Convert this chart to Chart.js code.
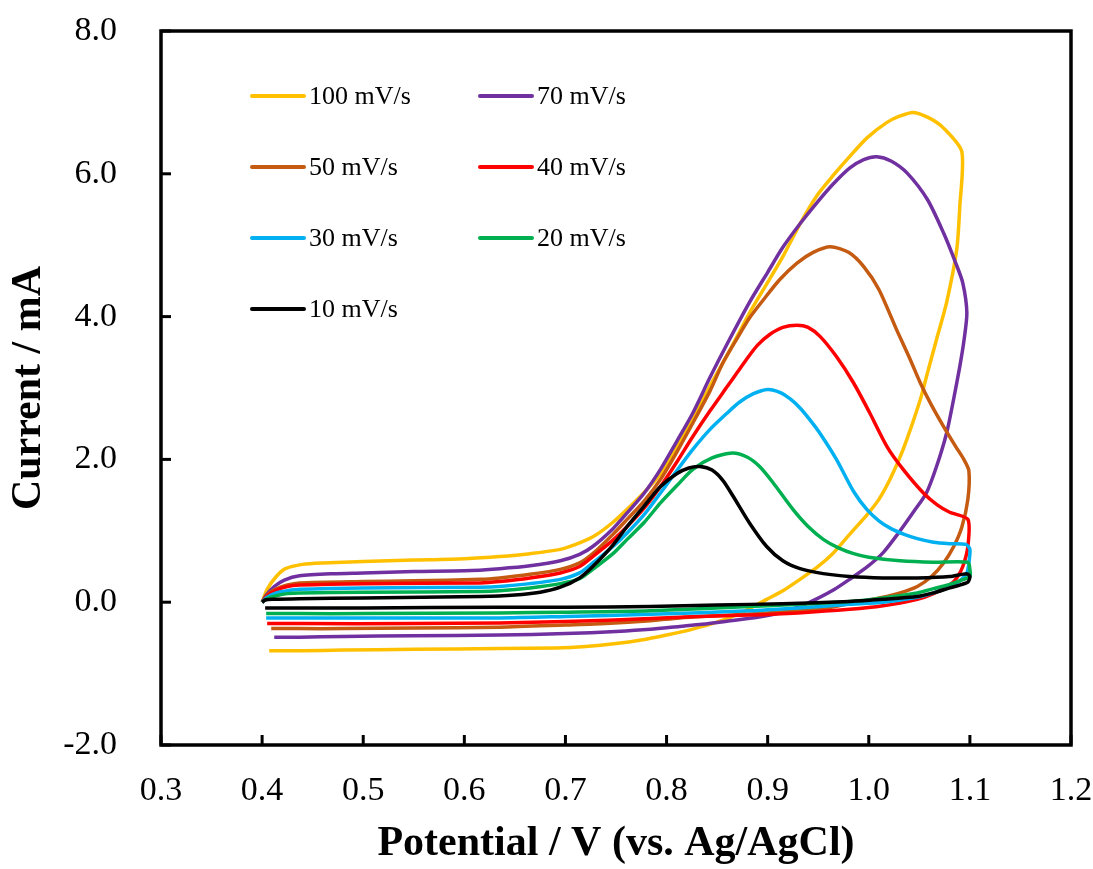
<!DOCTYPE html>
<html>
<head>
<meta charset="utf-8">
<script src="https://cdn.jsdelivr.net/npm/chart.js@4.4.1/dist/chart.umd.min.js"></script>
<style>
  html, body { margin: 0; padding: 0; background: #fff; }
  canvas { display: block; }
</style>
</head>
<body>
<canvas id="cvChart" width="1093" height="869"></canvas>
<script>
// scan rates and their colours
var rateLabels = ['100 mV/s', '70 mV/s', '50 mV/s', '40 mV/s', '30 mV/s', '20 mV/s', '10 mV/s'];
var rateColors = ['#FFC000', '#7030A0', '#C55A11', '#FF0000', '#00B0F0', '#00B050', '#000000'];

// potential (V) , current (mA) - forward sweep then reverse sweep
var cv100 = [[0.400,0.00],[0.405,0.18],[0.414,0.36],[0.423,0.47],[0.440,0.53],[0.460,0.55],[0.500,0.57],[0.550,0.59],[0.600,0.61],[0.635,0.64],[0.665,0.68],[0.695,0.74],[0.714,0.83],[0.730,0.94],[0.747,1.12],[0.761,1.30],[0.778,1.54],[0.794,1.80],[0.810,2.18],[0.826,2.58],[0.843,3.03],[0.860,3.46],[0.882,4.05],[0.900,4.48],[0.915,4.84],[0.932,5.30],[0.949,5.70],[0.965,5.98],[0.981,6.24],[0.998,6.50],[1.018,6.72],[1.031,6.81],[1.044,6.86],[1.060,6.78],[1.074,6.64],[1.092,6.31],[1.090,5.54],[1.087,4.94],[1.077,4.20],[1.067,3.68],[1.058,3.21],[1.051,2.84],[1.034,2.14],[1.022,1.75],[1.010,1.44],[0.998,1.22],[0.981,0.95],[0.965,0.69],[0.949,0.49],[0.932,0.32],[0.915,0.16],[0.899,0.04],[0.875,-0.14],[0.850,-0.28],[0.825,-0.38],[0.800,-0.46],[0.775,-0.53],[0.750,-0.58],[0.720,-0.62],[0.690,-0.64],[0.635,-0.65],[0.550,-0.66],[0.480,-0.67],[0.440,-0.68],[0.407,-0.68]];
var cv70 = [[0.400,0.00],[0.404,0.10],[0.412,0.22],[0.422,0.31],[0.437,0.37],[0.470,0.40],[0.500,0.41],[0.550,0.43],[0.600,0.44],[0.635,0.47],[0.665,0.51],[0.695,0.58],[0.714,0.67],[0.727,0.78],[0.747,1.03],[0.761,1.25],[0.778,1.53],[0.794,1.86],[0.810,2.25],[0.826,2.65],[0.843,3.15],[0.860,3.62],[0.882,4.20],[0.900,4.62],[0.915,4.97],[0.932,5.30],[0.949,5.60],[0.965,5.86],[0.981,6.08],[0.995,6.20],[1.008,6.24],[1.022,6.18],[1.038,6.01],[1.058,5.64],[1.074,5.17],[1.086,4.75],[1.093,4.47],[1.097,4.05],[1.094,3.65],[1.090,3.30],[1.084,2.85],[1.077,2.37],[1.067,1.90],[1.057,1.53],[1.045,1.28],[1.031,1.00],[1.014,0.69],[0.998,0.49],[0.981,0.32],[0.965,0.17],[0.949,0.05],[0.932,-0.06],[0.915,-0.14],[0.890,-0.21],[0.863,-0.26],[0.835,-0.31],[0.813,-0.34],[0.784,-0.38],[0.750,-0.41],[0.700,-0.44],[0.635,-0.46],[0.550,-0.47],[0.480,-0.48],[0.437,-0.49],[0.412,-0.49]];
var cv50 = [[0.400,0.00],[0.405,0.10],[0.413,0.18],[0.425,0.24],[0.437,0.27],[0.500,0.29],[0.550,0.30],[0.616,0.32],[0.635,0.34],[0.665,0.39],[0.695,0.46],[0.714,0.55],[0.727,0.68],[0.747,0.95],[0.761,1.16],[0.778,1.42],[0.794,1.72],[0.810,2.10],[0.826,2.51],[0.843,2.96],[0.856,3.36],[0.870,3.70],[0.882,3.98],[0.896,4.24],[0.912,4.52],[0.929,4.75],[0.945,4.90],[0.962,4.98],[0.980,4.90],[0.995,4.70],[1.010,4.38],[1.028,3.80],[1.040,3.43],[1.051,3.07],[1.062,2.76],[1.074,2.46],[1.086,2.18],[1.094,2.00],[1.099,1.84],[1.098,1.44],[1.092,1.05],[1.084,0.78],[1.074,0.55],[1.062,0.36],[1.048,0.22],[1.031,0.13],[1.014,0.07],[0.981,-0.02],[0.949,-0.10],[0.900,-0.15],[0.850,-0.19],[0.813,-0.22],[0.784,-0.26],[0.740,-0.30],[0.700,-0.32],[0.635,-0.35],[0.550,-0.36],[0.480,-0.37],[0.437,-0.37],[0.409,-0.37]];
var cv40 = [[0.400,0.00],[0.405,0.09],[0.414,0.17],[0.425,0.22],[0.437,0.24],[0.500,0.26],[0.616,0.27],[0.635,0.29],[0.665,0.34],[0.695,0.41],[0.714,0.50],[0.727,0.64],[0.747,0.87],[0.761,1.06],[0.778,1.32],[0.794,1.62],[0.810,1.96],[0.826,2.32],[0.843,2.68],[0.860,3.02],[0.870,3.22],[0.879,3.40],[0.890,3.60],[0.902,3.75],[0.915,3.85],[0.929,3.88],[0.940,3.85],[0.952,3.72],[0.968,3.44],[0.985,3.07],[1.001,2.65],[1.018,2.18],[1.034,1.86],[1.054,1.53],[1.068,1.36],[1.080,1.26],[1.098,1.16],[1.098,0.78],[1.093,0.50],[1.087,0.34],[1.080,0.24],[1.064,0.12],[1.048,0.04],[1.014,-0.05],[0.981,-0.10],[0.930,-0.15],[0.882,-0.18],[0.830,-0.20],[0.784,-0.23],[0.700,-0.27],[0.635,-0.29],[0.550,-0.30],[0.437,-0.30],[0.405,-0.30]];
var cv30 = [[0.400,0.00],[0.405,0.07],[0.414,0.13],[0.425,0.16],[0.437,0.18],[0.500,0.20],[0.616,0.21],[0.635,0.22],[0.665,0.26],[0.695,0.32],[0.714,0.41],[0.727,0.55],[0.747,0.78],[0.761,0.97],[0.778,1.23],[0.794,1.53],[0.810,1.84],[0.826,2.14],[0.843,2.42],[0.860,2.65],[0.872,2.80],[0.886,2.92],[0.900,2.98],[0.912,2.94],[0.922,2.85],[0.932,2.72],[0.942,2.55],[0.952,2.36],[0.968,2.00],[0.985,1.55],[0.998,1.30],[1.010,1.14],[1.022,1.03],[1.035,0.95],[1.048,0.89],[1.064,0.84],[1.080,0.82],[1.096,0.81],[1.100,0.74],[1.099,0.55],[1.097,0.41],[1.090,0.30],[1.080,0.21],[1.064,0.13],[1.048,0.07],[1.014,0.00],[0.981,-0.03],[0.930,-0.08],[0.882,-0.12],[0.784,-0.17],[0.700,-0.20],[0.635,-0.22],[0.500,-0.22],[0.437,-0.22],[0.404,-0.22]];
var cv20 = [[0.400,0.00],[0.405,0.05],[0.414,0.09],[0.425,0.12],[0.437,0.13],[0.500,0.14],[0.616,0.15],[0.635,0.16],[0.665,0.20],[0.695,0.26],[0.714,0.33],[0.727,0.46],[0.747,0.68],[0.761,0.88],[0.778,1.12],[0.794,1.39],[0.810,1.63],[0.826,1.86],[0.845,2.02],[0.865,2.09],[0.880,2.03],[0.892,1.90],[0.905,1.68],[0.925,1.30],[0.940,1.06],[0.955,0.88],[0.970,0.76],[0.985,0.68],[1.000,0.63],[1.031,0.58],[1.064,0.56],[1.098,0.56],[1.100,0.46],[1.100,0.36],[1.090,0.30],[1.080,0.25],[1.064,0.19],[1.048,0.13],[1.014,0.06],[0.981,0.01],[0.930,-0.03],[0.882,-0.06],[0.784,-0.12],[0.700,-0.14],[0.635,-0.15],[0.500,-0.16],[0.437,-0.16],[0.404,-0.16]];
var cv10 = [[0.400,0.00],[0.403,0.03],[0.410,0.04],[0.437,0.05],[0.500,0.06],[0.616,0.08],[0.650,0.10],[0.675,0.14],[0.695,0.21],[0.714,0.34],[0.727,0.50],[0.747,0.80],[0.761,1.06],[0.778,1.35],[0.794,1.62],[0.810,1.80],[0.822,1.88],[0.833,1.90],[0.845,1.85],[0.856,1.70],[0.866,1.48],[0.882,1.11],[0.899,0.78],[0.915,0.58],[0.932,0.47],[0.955,0.40],[0.981,0.36],[1.014,0.34],[1.048,0.34],[1.080,0.36],[1.097,0.40],[1.100,0.36],[1.098,0.28],[1.090,0.24],[1.080,0.20],[1.064,0.13],[1.048,0.08],[1.014,0.04],[0.981,0.01],[0.915,-0.02],[0.850,-0.04],[0.784,-0.06],[0.700,-0.07],[0.635,-0.07],[0.500,-0.08],[0.437,-0.08],[0.403,-0.08]];

var curves = [cv100, cv70, cv50, cv40, cv30, cv20, cv10];

var serif = "'Liberation Serif', 'Times New Roman', serif";

// frame around the plot area with inward tick marks
var frameTicks = {
    id: 'frameTicks',
    afterDatasetsDraw: function(chart) {
        var ctx = chart.ctx, a = chart.chartArea;
        var xs = chart.scales.x, ys = chart.scales.y;
        ctx.save();
        ctx.strokeStyle = '#000';
        ctx.lineWidth = 3.5;
        ctx.lineCap = 'square';
        ctx.strokeRect(a.left, a.top, a.right - a.left, a.bottom - a.top);
        ctx.lineWidth = 3;
        ctx.lineCap = 'butt';
        xs.ticks.forEach(function(t) {
            var px = xs.getPixelForValue(t.value);
            ctx.beginPath();
            ctx.moveTo(px, a.bottom);
            ctx.lineTo(px, a.bottom - 10);
            ctx.stroke();
        });
        ys.ticks.forEach(function(t) {
            var py = ys.getPixelForValue(t.value);
            ctx.beginPath();
            ctx.moveTo(a.left, py);
            ctx.lineTo(a.left + 10, py);
            ctx.stroke();
        });
        ctx.restore();
    }
};

// two-column legend inside the plot
var insideLegend = {
    id: 'insideLegend',
    afterDraw: function(chart) {
        var ctx = chart.ctx;
        ctx.save();
        ctx.font = '26px ' + serif;
        ctx.textBaseline = 'middle';
        ctx.fillStyle = '#000';
        chart.data.datasets.forEach(function(ds, i) {
            var col = i % 2, row = Math.floor(i / 2);
            var x0 = 252 + col * 228;
            var y0 = 96 + row * 71;
            ctx.strokeStyle = ds.borderColor;
            ctx.lineWidth = 4;
            ctx.lineCap = 'round';
            ctx.beginPath();
            ctx.moveTo(x0, y0);
            ctx.lineTo(x0 + 52, y0);
            ctx.stroke();
            ctx.fillText(ds.label, x0 + 57, y0 + 1);
        });
        ctx.restore();
    }
};

var ctx = document.getElementById('cvChart');
var chart = new Chart(ctx, {
    type: 'scatter',
    data: {
        datasets: curves.map(function(c, i) {
            return {
                label: rateLabels[i],
                data: c.map(function(p) { return {x: p[0], y: p[1]}; }),
                borderColor: rateColors[i],
                backgroundColor: rateColors[i],
                showLine: true,
                borderWidth: 3.5,
                pointRadius: 0,
                tension: 0.25,
                order: rateLabels.length - i
            };
        })
    },
    options: {
        responsive: false,
        animation: false,
        layout: { padding: { left: 0, right: 22, top: 31, bottom: 0 } },
        plugins: {
            legend: { display: false },
            tooltip: { enabled: false }
        },
        scales: {
            x: {
                type: 'linear',
                min: 0.3,
                max: 1.2,
                grid: { display: false },
                border: { display: false },
                ticks: {
                    stepSize: 0.1,
                    padding: 18,
                    color: '#000',
                    font: { family: serif, size: 34 },
                    callback: function(v) { return v.toFixed(1); }
                },
                title: {
                    display: true,
                    text: 'Potential / V (vs. Ag/AgCl)',
                    color: '#000',
                    font: { family: serif, size: 42, weight: 'bold' },
                    padding: { top: 11, bottom: 0 }
                },
                afterFit: function(s) {
                    s.height = 124;
                    s.paddingLeft = 0;
                    s.paddingRight = 0;
                }
            },
            y: {
                min: -2,
                max: 8,
                grid: { display: false },
                border: { display: false },
                ticks: {
                    stepSize: 2,
                    padding: 36,
                    color: '#000',
                    font: { family: serif, size: 34 },
                    callback: function(v) { return v.toFixed(1); }
                },
                title: {
                    display: true,
                    text: 'Current / mA',
                    color: '#000',
                    font: { family: serif, size: 42, weight: 'bold' },
                    padding: { top: 4, bottom: 0 }
                },
                afterFit: function(s) {
                    s.width = 161;
                    s.paddingTop = 0;
                    s.paddingBottom = 0;
                }
            }
        }
    },
    plugins: [frameTicks, insideLegend]
});
</script>
</body>
</html>
